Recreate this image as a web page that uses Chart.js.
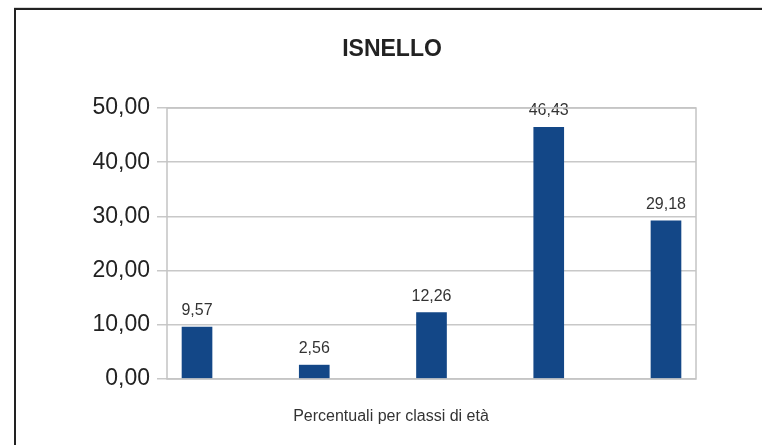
<!DOCTYPE html>
<html>
<head>
<meta charset="utf-8">
<script src="https://cdn.jsdelivr.net/npm/chart.js@4/dist/chart.umd.min.js"></script>
<style>
  html, body { margin: 0; padding: 0; background: #fff; }
  #wrap { position: relative; width: 762px; height: 445px; }
</style>
</head>
<body>
<div id="wrap"><canvas id="chart" width="762" height="445"></canvas></div>
<script>
const chartTitle = 'ISNELLO';
const axisTitle = 'Percentuali per classi di età';
const classes = ['1', '2', '3', '4', '5'];
const percentuali = [9.57, 2.56, 12.26, 46.43, 29.18];
const yTicks = [0, 10, 20, 30, 40, 50];

const fmt = (v) => v.toFixed(2).replace('.', ',');
const FONT = '"Liberation Sans", Arial, sans-serif';

const frame = {
    id: 'frame',
    beforeDraw: (chart) => {
        const c = chart.ctx;
        c.save();
        c.fillStyle = '#fff';
        c.fillRect(0, 0, chart.width, chart.height);
        c.strokeStyle = '#d8d8d8';
        c.lineWidth = 1;
        c.beginPath();
        c.moveTo(14, 7.5); c.lineTo(chart.width, 7.5);
        c.stroke();
        c.strokeStyle = '#222';
        c.lineWidth = 2;
        c.beginPath();
        c.moveTo(chart.width, 9); c.lineTo(15, 9); c.lineTo(15, chart.height);
        c.stroke();
        c.restore();
    },
    afterDraw: (chart) => {
        const a = chart.chartArea;
        const c = chart.ctx;
        c.save();
        c.strokeStyle = '#c4c4c4';
        c.lineWidth = 1.5;
        c.strokeRect(a.left, a.top, a.right - a.left, a.bottom - a.top);
        // titles, centred on the framed page rather than the plot
        c.textAlign = 'center';
        c.textBaseline = 'middle';
        c.fillStyle = '#222';
        c.font = 'bold 23px ' + FONT;
        c.fillText(chartTitle, 392, 50);
        c.fillStyle = '#333';
        c.font = '16px ' + FONT;
        c.fillText(axisTitle, 391, 417);
        c.restore();
    }
};

const valueLabels = {
    id: 'valueLabels',
    afterDatasetsDraw: (chart) => {
        const c = chart.ctx;
        const meta = chart.getDatasetMeta(0);
        c.save();
        c.font = '16px ' + FONT;
        c.fillStyle = '#333';
        c.textAlign = 'center';
        c.textBaseline = 'alphabetic';
        meta.data.forEach((bar, i) => {
            c.fillText(fmt(percentuali[i]), bar.x, bar.y - 12);
        });
        c.restore();
    }
};

const chart = new Chart(document.getElementById('chart'), {
    type: 'bar',
    data: {
        datasets: [{
            label: chartTitle,
            data: percentuali.map((v, i) => ({ x: i, y: v })),
            backgroundColor: '#134787',
            borderWidth: 0,
            barThickness: 30
        }]
    },
    options: {
        responsive: false,
        animation: false,
        layout: { padding: { left: 0, right: 66, top: 108, bottom: 0 } },
        plugins: {
            legend: { display: false },
            tooltip: { enabled: false },
            title: { display: false }
        },
        scales: {
            x: {
                type: 'linear',
                offset: false,
                min: -0.256,
                max: classes.length - 1 + 0.256,
                ticks: { display: false },
                grid: { display: false, drawTicks: false },
                border: { display: false },
                afterFit: (s) => { s.height = 66; }
            },
            y: {
                min: 0,
                max: 50,
                afterBuildTicks: (s) => { s.ticks = yTicks.map(v => ({ value: v })); },
                afterFit: (s) => { s.width = 167; },
                ticks: {
                    callback: (v) => fmt(v),
                    color: '#222',
                    padding: 7,
                    font: { family: FONT, size: 23 }
                },
                grid: { color: '#c8c8c8', lineWidth: 1.5, tickLength: 10 },
                border: { display: false }
            }
        }
    },
    plugins: [frame, valueLabels]
});
</script>
</body>
</html>
